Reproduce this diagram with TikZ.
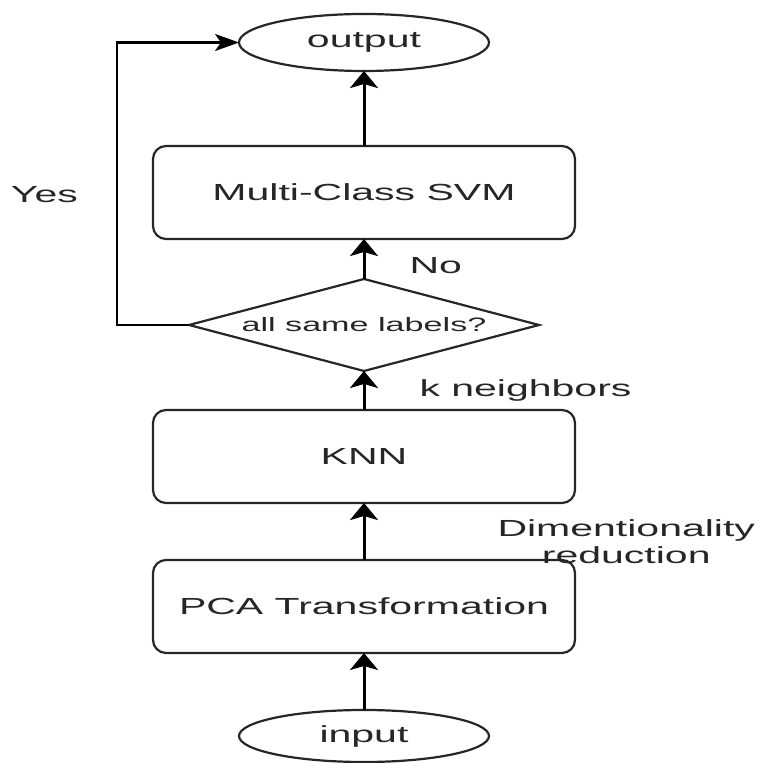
\documentclass[tikz,border=0pt]{standalone}
\usepackage{fontspec}
\setmainfont{Liberation Sans}[FakeStretch=1.76]
\usetikzlibrary{arrows.meta,
  positioning,
  shapes.geometric
}

\begin{document}
\begin{tikzpicture}[x=1pt, y=1pt,
        font=\fontsize{23.3}{27}\selectfont, text=black!85,
        roundnode/.style={ellipse, draw=black!85, line width=2.2pt, minimum width=250pt, minimum height=57pt, inner sep=0pt, outer sep=0pt},
        squarednode/.style={rectangle, rounded corners=13pt, draw=black!85, line width=2.2pt, minimum width=422pt, minimum height=93pt, inner sep=0pt, outer sep=0pt},
        decisionnode/.style={diamond, aspect=3.8, draw=black!85, line width=2.2pt, minimum width=350pt, minimum height=92pt, inner sep=0pt, outer sep=0pt, font=\fontsize{19.4}{22}\selectfont},
        labelnode/.style={inner sep=0pt, align=center},
        uparrow/.style={draw=black, line width=3pt, -{Stealth[length=17pt,width=28pt,inset=4pt]}},
        sidearrow/.style={draw=black, line width=2.4pt, -{Stealth[length=24pt,width=17pt,inset=6pt]}},
      ]
      \useasboundingbox (0,0) rectangle (757,763);
      % Nodes

      \node[roundnode, minimum height=52pt] (input) at (364,27) {input};
      \node[squarednode] (pca) [above=57pt of input] {PCA Transformation};
      \node[squarednode] (knn) [above=57pt of pca] {KNN};
      \node[decisionnode] (decision) [above=39pt of knn] {all same labels?};
      \node[squarednode] (svm) [above=40pt of decision] {Multi-Class SVM};
      \node[roundnode] (output) [above=75pt of svm] {output};

      % Lines
      \draw[uparrow] (input) -- (pca);
      \draw[uparrow] (pca) -- node[labelnode, pos=0.32, right=132pt] {Dimentionality\\reduction} (knn);
      \draw[uparrow] (knn) -- node[labelnode, pos=0.5, right=54pt] {k neighbors} (decision);
      \draw[uparrow] (decision) -- node[labelnode, pos=0.33, right=44pt] {No} (svm);
      \draw[uparrow] (svm) -- (output);
      \draw[sidearrow] (decision.west) -- ++(-72,0) coordinate (yes_corner)
        |- node[labelnode, pos=0.23, left=38pt] {Yes} (output.west);
    \end{tikzpicture}
\end{document}
